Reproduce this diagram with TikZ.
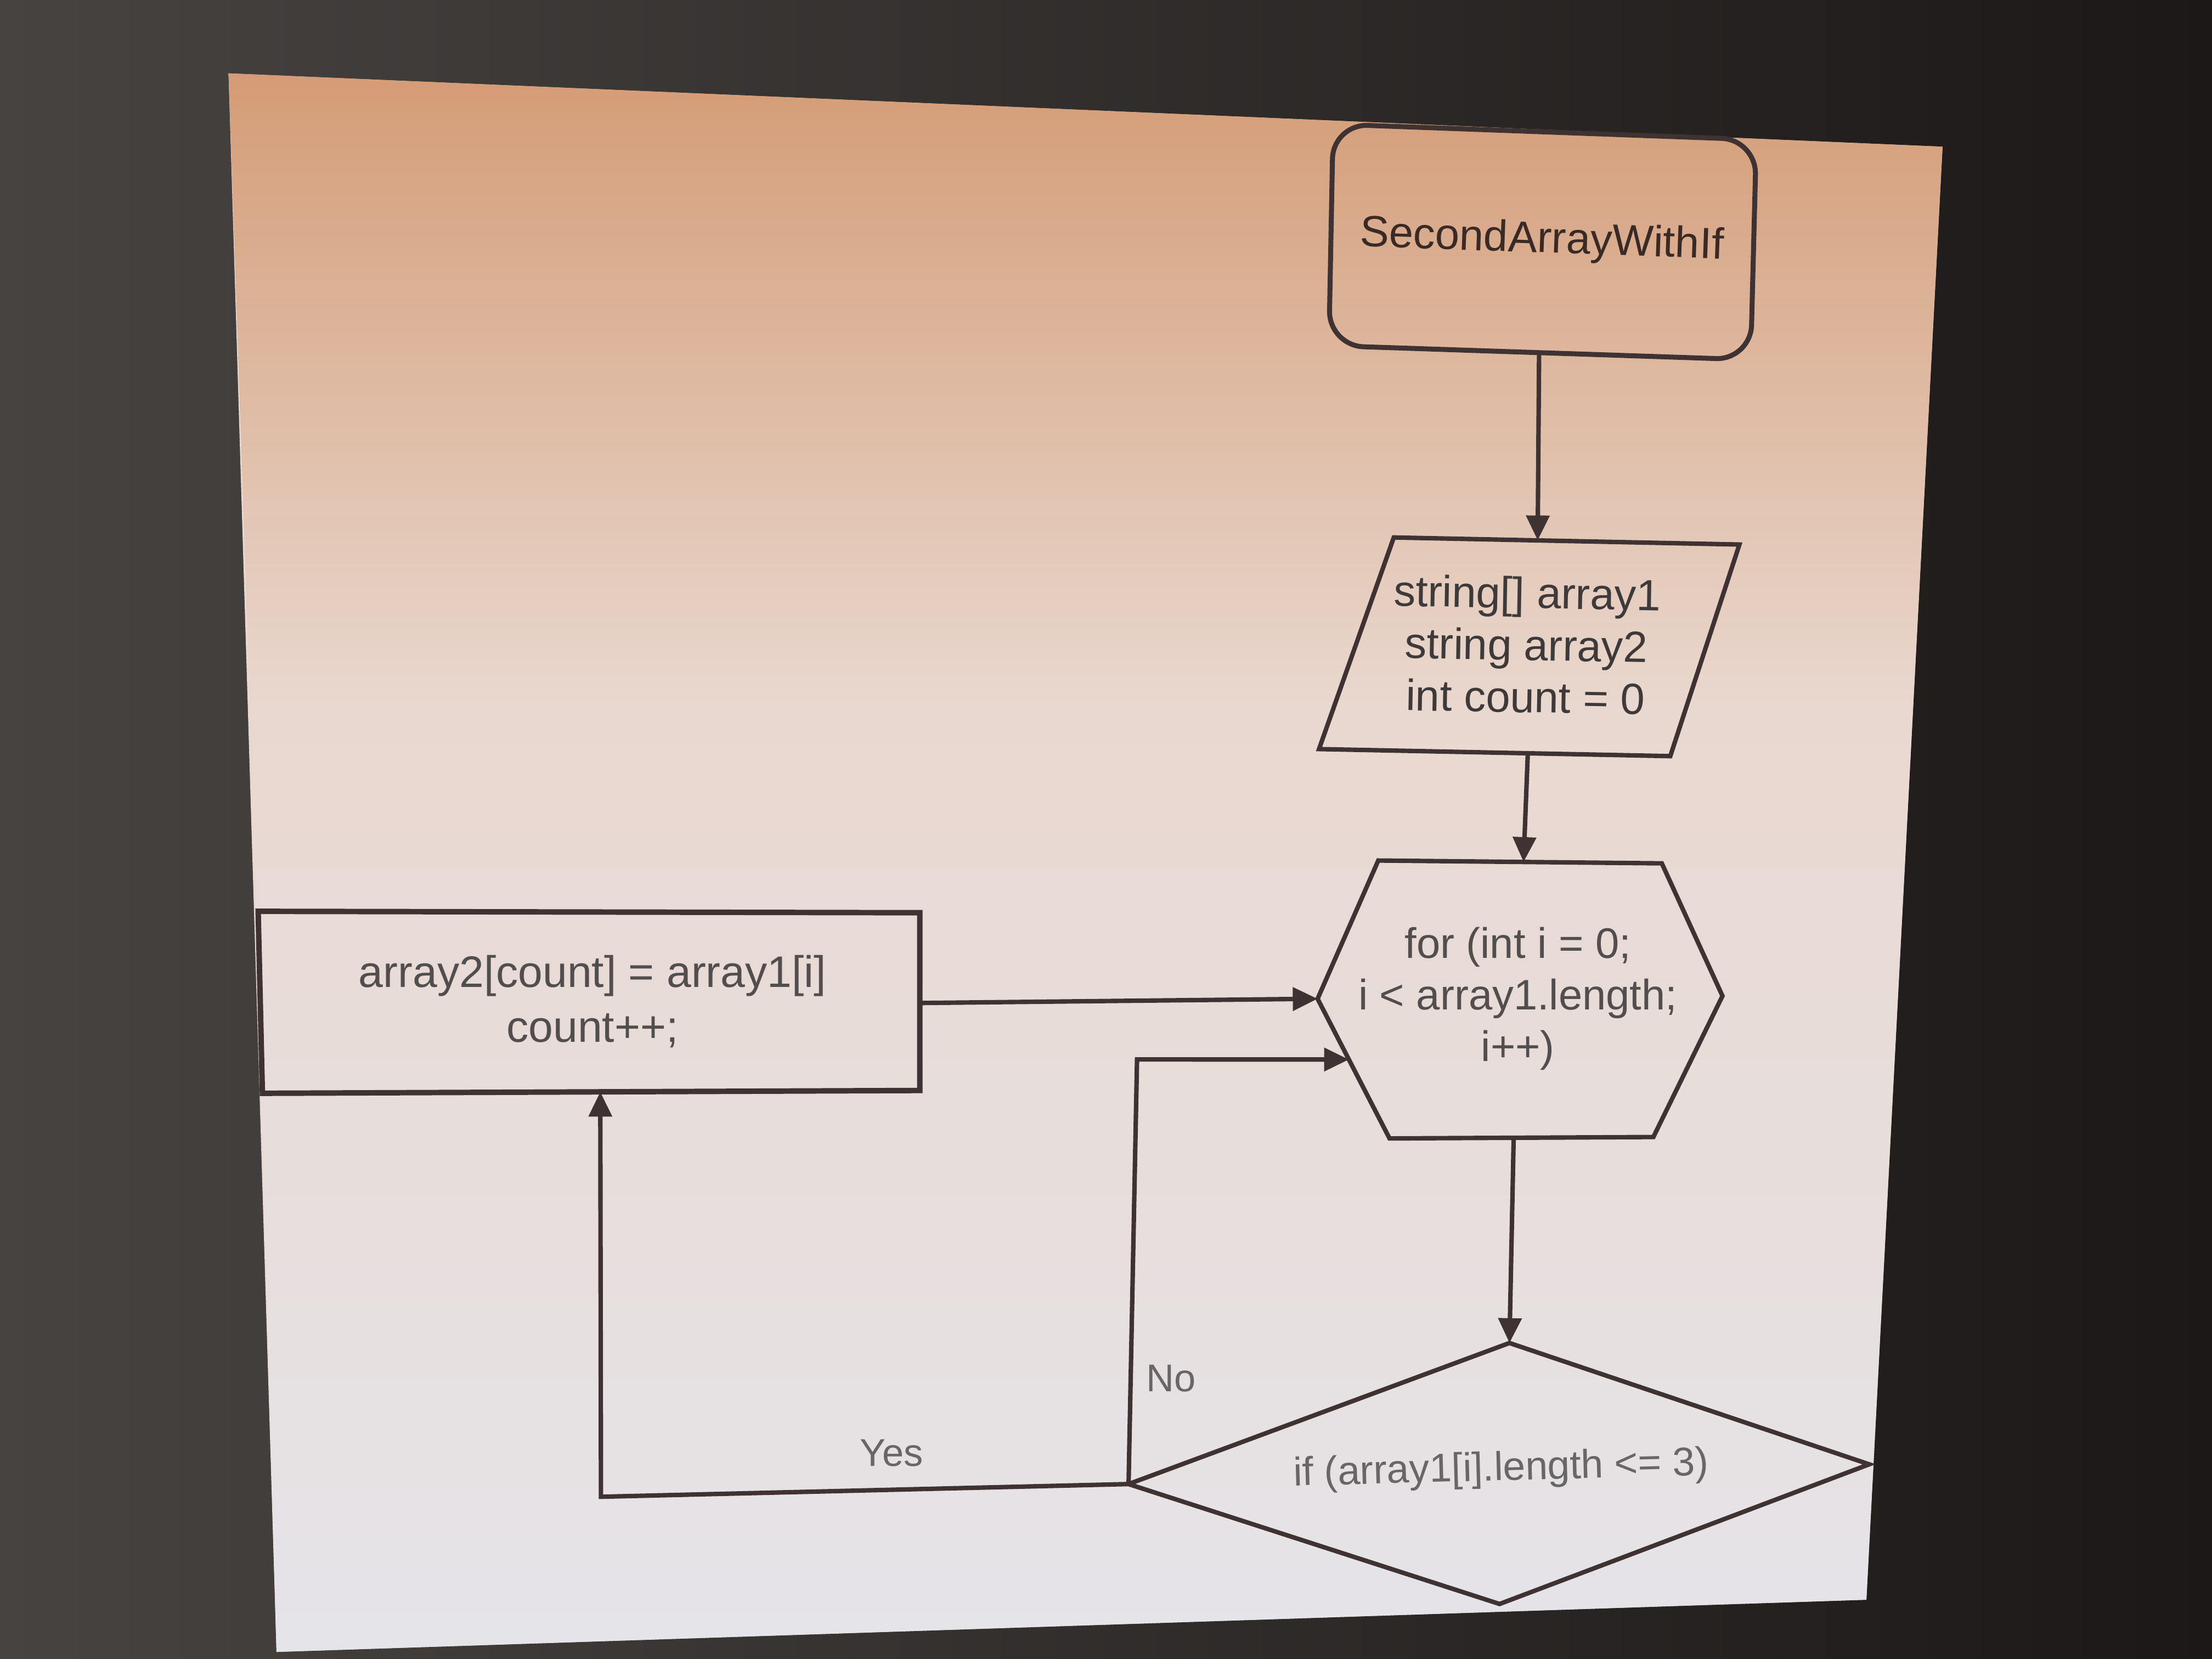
\documentclass[tikz,border=0pt]{standalone}
\usepackage{fontspec}
\setmainfont{Liberation Sans}
\usetikzlibrary{arrows.meta,calc}

\definecolor{bgL}{RGB}{70,67,65}
\definecolor{bgR}{RGB}{27,24,23}
\definecolor{scrTop}{RGB}{212,156,118}
\definecolor{scrMid}{RGB}{233,216,207}
\definecolor{scrBot}{RGB}{229,228,233}
\definecolor{lineC}{RGB}{62,50,50}
\definecolor{txtA}{RGB}{58,42,38}
\definecolor{txtB}{RGB}{62,58,58}
\definecolor{txtC}{RGB}{82,78,78}
\definecolor{txtD}{RGB}{104,102,104}

\begin{document}
\begin{tikzpicture}[x=0.01cm,y=-0.01cm]
\tikzset{
  outline/.style={draw=lineC, line width=0.9pt, line join=miter},
  flow/.style={draw=lineC, line width=0.9pt, -{Triangle[length=5pt,width=4.6pt]}},
  lbl/.style={inner sep=0pt, align=center, font=\fontsize{8.8}{10.6}\selectfont},
  small/.style={inner sep=0pt, font=\fontsize{7.8}{9}\selectfont, text=txtD},
}
\useasboundingbox (0,0) rectangle (1568,1176);

% dark surroundings
\shade[left color=bgL, right color=bgR] (0,0) rectangle (1568,1176);

% lit screen area, shaded in two bands
\coordinate (sTL) at (162,52);
\coordinate (sTR) at (1377,104);
\coordinate (sBR) at (1323,1134);
\coordinate (sBL) at (196,1171);
\coordinate (sL1) at (177.2,500);
\coordinate (sR1) at (1356.2,500);
\fill[scrMid] (sTL) -- (sTR) -- (sBR) -- (sBL) -- cycle;
\shade[top color=scrTop, bottom color=scrMid]
  (sTL) -- (sTR) -- (sR1) -- (sL1) -- cycle;
\shade[top color=scrMid, bottom color=scrBot]
  (sL1) -- (sR1) -- (sBR) -- (sBL) -- cycle;

% start terminal
\coordinate (stTL) at (945,88);
\coordinate (stTR) at (1245,99);
\coordinate (stBR) at (1241,255);
\coordinate (stBL) at (942,245);
\coordinate (stB)  at (1091,251);
\draw[outline, line width=1pt, rounded corners=7pt]
  ($(stTL)!0.5!(stTR)$) -- (stTR) -- (stBR) -- (stBL) -- (stTL) -- cycle;
\node[lbl, text=txtA, rotate=-2] (tStart) at (1093,171) {SecondArrayWithIf};

% input / declarations
\coordinate (paTL) at (988,381);
\coordinate (paTR) at (1233,386);
\coordinate (paBR) at (1184,536);
\coordinate (paBL) at (935,531);
\coordinate (paT)  at (1090,383);
\coordinate (paB)  at (1083,534);
\draw[outline] (paTL) -- (paTR) -- (paBR) -- (paBL) -- cycle;
\node[lbl, text=txtB, rotate=-1, font=\fontsize{8.8}{10.5}\selectfont]
  (tDecl) at (1082,457) {string[] array1\\string array2\\int count = 0};

% loop header
\coordinate (hxTL) at (977,610);
\coordinate (hxTR) at (1178,612);
\coordinate (hxR)  at (1221,706);
\coordinate (hxBR) at (1172,806);
\coordinate (hxBL) at (985,807);
\coordinate (hxL)  at (934,708);
\coordinate (hxT)  at (1080,611);
\coordinate (hxB)  at (1073,806);
\draw[outline] (hxTL) -- (hxTR) -- (hxR) -- (hxBR) -- (hxBL) -- (hxL) -- cycle;
\node[lbl, text=txtC, font=\fontsize{8.6}{10.4}\selectfont]
  (tLoop) at (1076,708) {for (int i = 0;\\i {<} array1.length;\\i++)};

% condition
\coordinate (dT) at (1070,952);
\coordinate (dR) at (1325,1038);
\coordinate (dB) at (1063,1137);
\coordinate (dL) at (800,1052);
\draw[outline] (dT) -- (dR) -- (dB) -- (dL) -- cycle;
\node[lbl, text=txtD, rotate=1.5, font=\fontsize{8.1}{10}\selectfont]
  (tCond) at (1064,1042) {if (array1[i].length {<}= 3)};

% assignment step
\coordinate (prTL) at (183,646);
\coordinate (prTR) at (652,647);
\coordinate (prBR) at (652,773);
\coordinate (prBL) at (186,775);
\draw[outline, line width=1.1pt] (prTL) -- (prTR) -- (prBR) -- (prBL) -- cycle;
\node[lbl, text=txtC, font=\fontsize{8.9}{11.1}\selectfont]
  (tStep) at (420,710) {array2[count] = array1[i]\\count++;};

% connectors
\draw[flow] (stB) -- (paT);
\draw[flow] (paB) -- (hxT);
\draw[flow] (hxB) -- (dT);

\coordinate (prR) at (652,711);
\draw[flow] (prR) -- (hxL);

\coordinate (noBend) at (806,751);
\coordinate (hxIn) at ($(hxL)!0.435!(hxBL)$);
\draw[flow] (dL) -- (noBend) -- (hxIn);

\coordinate (yesBend) at (426,1061);
\coordinate (prIn) at ($(prBL)!0.514!(prBR)$);
\draw[flow] (dL) -- (yesBend) -- (prIn);

\node[small] (lNo)  at (830,977)  {No};
\node[small] (lYes) at (632,1030) {Yes};
\end{tikzpicture}
\end{document}
